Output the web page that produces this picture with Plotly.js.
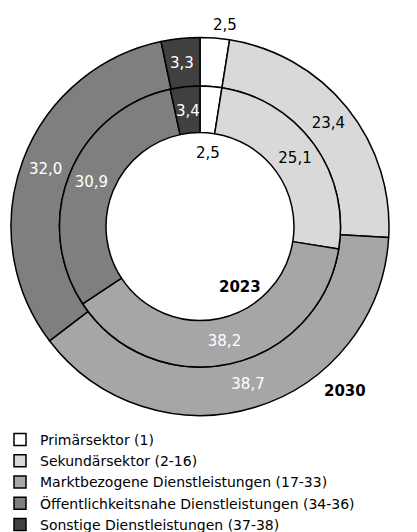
<!DOCTYPE html>
<html><head><meta charset="utf-8">
<script src="https://cdn.plot.ly/plotly-3.0.1.min.js"></script>
<style>html,body{margin:0;padding:0;background:#fff}</style>
</head><body><div id="chart" style="width:417px;height:532px"></div>
<script>
const categories = ["Primärsektor (1)", "Sekundärsektor (2-16)", "Marktbezogene Dienstleistungen (17-33)", "Öffentlichkeitsnahe Dienstleistungen (34-36)", "Sonstige Dienstleistungen (37-38)"];
const values2023 = [2.5, 25.1, 38.2, 30.9, 3.4];
const values2030 = [2.5, 23.4, 38.7, 32.0, 3.3];
const yearLabels = ["2023", "2030"];
const colors = ["#ffffff", "#d9d9d9", "#a6a6a6", "#7f7f7f", "#404040"];
const textColors = ["#000000", "#000000", "#ffffff", "#ffffff", "#ffffff"];

const W = 417, H = 532;
const FONT = "DejaVu Sans, sans-serif";
const cx = 200, cy = 226.5, rOuter = 189, rMid = 140.5, rIn = 94;
function dom(r) {
  return { x: [(cx - r) / W, (cx + r) / W], y: [1 - (cy + r) / H, 1 - (cy - r) / H] };
}
const line = { color: "#000000", width: 1.5 };

const outer = {
  type: "pie", name: yearLabels[1], labels: categories, values: values2030,
  sort: false, direction: "clockwise", rotation: 0,
  hole: rMid / rOuter, domain: dom(rOuter),
  marker: { colors: colors, line: line },
  texttemplate: "%{value:.1f}", textinfo: "text",
  textposition: ["none", "inside", "inside", "inside", "none"],
  insidetextorientation: "horizontal",
  insidetextfont: { family: FONT, size: 15, color: textColors },
  automargin: false,
  hoverinfo: "label+value"
};
const inner = {
  type: "pie", name: yearLabels[0], labels: categories, values: values2023,
  sort: false, direction: "clockwise", rotation: 0,
  hole: rIn / rMid, domain: dom(rMid),
  marker: { colors: colors, line: line },
  texttemplate: "%{value:.1f}", textinfo: "text",
  textposition: ["none", "inside", "inside", "inside", "none"],
  insidetextorientation: "horizontal",
  insidetextfont: { family: FONT, size: 15, color: textColors },
  automargin: false,
  hoverinfo: "label+value"
};

const fmt = v => v.toFixed(1).replace(".", ",");
function ann(text, px, py, color, bold) {
  return {
    text: bold ? "<b>" + text + "</b>" : text,
    x: px / W, y: 1 - py / H, xref: "paper", yref: "paper",
    xanchor: "center", yanchor: "middle", showarrow: false,
    font: { family: FONT, size: 15, color: color }
  };
}
const layout = {
  width: W, height: H,
  margin: { l: 0, r: 0, t: 0, b: 0, pad: 0, autoexpand: false },
  paper_bgcolor: "#ffffff",
  separators: ",.",
  showlegend: true,
  font: { family: FONT, size: 15, color: "#000000" },
  legend: {
    x: 0, xanchor: "left", y: 1 - 424 / H, yanchor: "top",
    orientation: "v", traceorder: "normal",
    font: { family: FONT, size: 14, color: "#000000" },
    itemwidth: 30, tracegroupgap: 0, borderwidth: 0
  },
  annotations: [
    ann(yearLabels[0], 240, 287, "#000", true),
    ann(yearLabels[1], 345, 391, "#000", true),
    ann(fmt(values2030[0]), 225, 25, "#000", false),
    ann(fmt(values2023[0]), 208, 153, "#000", false),
    ann(fmt(values2030[4]), 182, 63, "#fff", false),
    ann(fmt(values2023[4]), 188, 111, "#fff", false)
  ]
};
Plotly.newPlot("chart", [outer, inner], layout, { displayModeBar: false, staticPlot: true });
</script>
</body></html>
